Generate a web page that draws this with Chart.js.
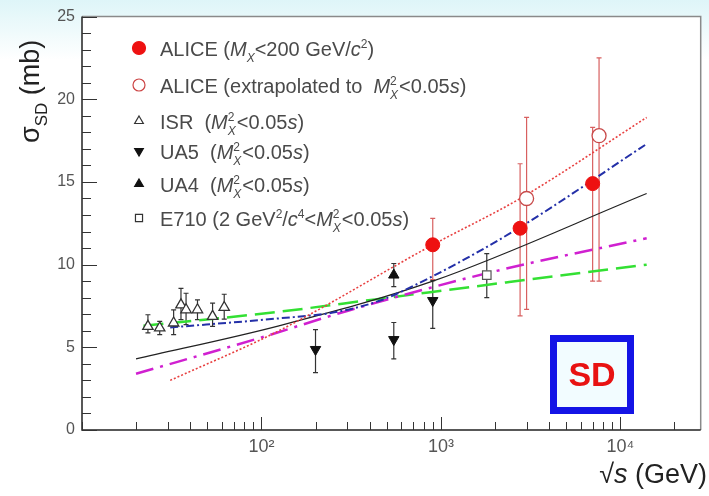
<!DOCTYPE html>
<html>
<head>
<meta charset="utf-8">
<script src="https://cdn.jsdelivr.net/npm/chart.js@4.4.1/dist/chart.umd.min.js"></script>
<style>
  body { margin: 0; background: #fff; }
  #wrap { width: 709px; height: 496px; }
</style>
</head>
<body>
<div id="wrap"><canvas id="sdChart" width="709" height="496"></canvas></div>
<script>
const FONT = '"Liberation Sans", Arial, sans-serif';

// ALICE, M_X < 200 GeV/c^2
const aliceEnergy = [900, 2760, 7000];
const aliceSigma = [11.2, 12.2, 14.9];
const aliceErrUp = [1.6, 3.9, 3.4];
const aliceErrDown = [2.1, 5.3, 5.9];

// ALICE extrapolated to M_X^2 < 0.05s (shifted a bit in energy in the plot)
const aliceExtEnergy = [3000, 7600];
const aliceExtSigma = [14.0, 17.8];
const aliceExtErrUp = [4.9, 4.7];
const aliceExtErrDown = [6.7, 8.8];

const isrEnergy = [23.3, 27.1, 32.4, 35.6, 38, 44, 53.4, 62];
const isrSigma = [6.27, 6.17, 6.47, 7.57, 7.27, 7.27, 6.87, 7.41];
const isrErrUp = [0.7, 0.4, 0.8, 1.0, 1.0, 0.6, 0.8, 0.8];
const isrErrDown = [0.4, 0.4, 0.7, 0.9, 0.9, 0.6, 0.6, 0.7];

const ua5Energy = [200, 546, 900];
const ua5Sigma = [4.87, 5.47, 7.83];
const ua5ErrUp = [1.2, 1.03, 1.2];
const ua5ErrDown = [1.4, 1.17, 1.68];

const ua4Energy = [546];
const ua4Sigma = [9.37];
const ua4ErrUp = [0.7];
const ua4ErrDown = [0.7];

const e710Energy = [1800];
const e710Sigma = [9.37];
const e710ErrUp = [1.3];
const e710ErrDown = [1.37];

// model curves
const redDotE = [31, 125, 900, 2760, 14000];
const redDotY = [3.0, 6.0, 11.2, 14.0, 18.9];
const blueDashDotE = [31, 125, 250, 450, 900, 2700, 14000];
const blueDashDotY = [6.2, 6.75, 7.1, 7.8, 9.3, 12.2, 17.3];
const blackE = [20, 125, 900, 14000];
const blackY = [4.3, 6.3, 9.0, 14.3];
const magentaE = [20, 100, 300, 2000, 14000];
const magentaY = [3.4, 5.6, 7.2, 9.6, 11.6];
const greenE = [22, 125, 430, 2400, 14000];
const greenY = [6.3, 7.15, 7.9, 8.95, 10.0];

const xMajorLabels = { 100: "10²", 1000: "10³", 10000: "10⁴" };
const yTicks = [0, 5, 10, 15, 20, 25];

const pts = (xs, ys) => xs.map((x, i) => ({ x: x, y: ys[i] }));

const xTickValues = [];
[10, 100, 1000, 10000].forEach((d) => {
  for (let k = 1; k <= 9; k++) if (d * k <= 28000) xTickValues.push(d * k);
});

function richText(ctx, x, y, parts, size) {
  const small = Math.round(size * 0.62);
  for (const p of parts) {
    const o = typeof p === "string" ? { t: p } : p;
    if (o.stack) {
      ctx.font = `${small}px ${FONT}`;
      const w1 = ctx.measureText(o.stack[0]).width;
      ctx.fillText(o.stack[0], x, y - size * 0.42);
      ctx.font = `italic ${small}px ${FONT}`;
      const w2 = ctx.measureText(o.stack[1]).width;
      ctx.fillText(o.stack[1], x, y + size * 0.28);
      x += Math.max(w1, w2) + 1;
      continue;
    }
    const sz = o.sub || o.sup ? small : size;
    ctx.font = `${o.it ? "italic " : ""}${sz}px ${FONT}`;
    const dy = o.sub ? size * 0.28 : o.sup ? -size * 0.42 : 0;
    ctx.fillText(o.t, x, y + dy);
    x += ctx.measureText(o.t).width;
  }
}

const mx2 = [{ t: "M", it: true }, { stack: ["2", "X"] }];
const legendRows = [
  { style: "circle", fill: "#ee1111", stroke: "#ee1111", r: 6.5, rot: 0,
    text: ["ALICE (", { t: "M", it: true }, { t: "X", it: true, sub: true }, "<200 GeV/", { t: "c", it: true }, { t: "2", sup: true }, ")"] },
  { style: "circle", fill: "#fff", stroke: "#cc4444", r: 6, rot: 0,
    text: ["ALICE (extrapolated to  ", ...mx2, "<0.05", { t: "s", it: true }, ")"] },
  { style: "triangle", fill: "#fff", stroke: "#333", r: 5, rot: 0,
    text: ["ISR  (", ...mx2, "<0.05", { t: "s", it: true }, ")"] },
  { style: "triangle", fill: "#111", stroke: "#111", r: 5, rot: 180,
    text: ["UA5  (", ...mx2, "<0.05", { t: "s", it: true }, ")"] },
  { style: "triangle", fill: "#111", stroke: "#111", r: 5, rot: 0,
    text: ["UA4  (", ...mx2, "<0.05", { t: "s", it: true }, ")"] },
  { style: "rect", fill: "#fff", stroke: "#333", r: 5, rot: 0,
    text: ["E710 (2 GeV", { t: "2", sup: true }, "/", { t: "c", it: true }, { t: "4", sup: true }, "<", ...mx2, "<0.05", { t: "s", it: true }, ")"] },
];
const legendBaselines = [56, 93, 129, 159, 192, 226];

const decorPlugin = {
  id: "decor",
  beforeDraw(chart) {
    const { ctx, chartArea: a } = chart;
    ctx.save();
    const g = ctx.createLinearGradient(0, 0, 0, 60);
    g.addColorStop(0, "#def5f8");
    g.addColorStop(1, "#ffffff");
    ctx.fillStyle = g;
    ctx.fillRect(0, 0, chart.width, chart.height);
    ctx.fillStyle = "#fff";
    ctx.fillRect(a.left, a.top, a.right - a.left, a.bottom - a.top);
    ctx.restore();
  },
  beforeDatasetsDraw(chart) {
    // error bars, behind the markers
    const { ctx, scales } = chart;
    ctx.save();
    chart.data.datasets.forEach((ds) => {
      if (!ds.errUp) return;
      ctx.strokeStyle = ds.errColor;
      ctx.lineWidth = 1.2;
      ds.data.forEach((p, i) => {
        const x = scales.x.getPixelForValue(p.x);
        const yt = scales.y.getPixelForValue(p.y + ds.errUp[i]);
        const yb = scales.y.getPixelForValue(p.y - ds.errDown[i]);
        ctx.beginPath();
        ctx.moveTo(x, yt); ctx.lineTo(x, yb);
        ctx.moveTo(x - 2.5, yt); ctx.lineTo(x + 2.5, yt);
        ctx.moveTo(x - 2.5, yb); ctx.lineTo(x + 2.5, yb);
        ctx.stroke();
      });
    });
    ctx.restore();
  },
  afterDraw(chart) {
    const { ctx, chartArea: a, scales } = chart;
    ctx.save();
    // frame
    ctx.lineWidth = 1.5;
    ctx.strokeStyle = "#8a8a8a";
    ctx.beginPath();
    ctx.moveTo(a.left, a.top); ctx.lineTo(a.right, a.top); ctx.lineTo(a.right, a.bottom);
    ctx.stroke();
    ctx.strokeStyle = "#222";
    ctx.beginPath();
    ctx.moveTo(a.left, a.top); ctx.lineTo(a.left, a.bottom); ctx.lineTo(a.right, a.bottom);
    ctx.stroke();
    // inward ticks
    ctx.lineWidth = 1;
    ctx.strokeStyle = "#333";
    ctx.beginPath();
    for (let v = 0; v <= 25; v++) {
      const y = Math.round(scales.y.getPixelForValue(v)) + 0.5;
      const len = v % 5 === 0 ? 15 : 9;
      ctx.moveTo(a.left, y); ctx.lineTo(a.left + len, y);
    }
    xTickValues.forEach((v) => {
      const x = Math.round(scales.x.getPixelForValue(v)) + 0.5;
      const len = xMajorLabels[v] ? 13 : 8;
      ctx.moveTo(x, a.bottom); ctx.lineTo(x, a.bottom - len);
    });
    ctx.stroke();

    // legend
    ctx.textBaseline = "alphabetic";
    legendRows.forEach((row, i) => {
      const yb = legendBaselines[i];
      ctx.fillStyle = row.fill;
      ctx.strokeStyle = row.stroke;
      ctx.lineWidth = 1.2;
      Chart.helpers.drawPoint(ctx, { pointStyle: row.style, radius: row.r, rotation: row.rot, borderWidth: 1.2 }, 139, yb - 8);
      ctx.fillStyle = "#4a4a4a";
      richText(ctx, 160, yb, row.text, 20);
    });

    // axis titles
    ctx.fillStyle = "#222";
    ctx.save();
    ctx.translate(39, 143);
    ctx.rotate(-Math.PI / 2);
    richText(ctx, 0, 0, [{ t: "σ" }, { t: "SD", sub: true }, " (mb)"], 27);
    ctx.restore();
    ctx.font = `27px ${FONT}`;
    const tail = " (GeV)";
    const wTail = ctx.measureText(tail).width;
    ctx.font = `italic 27px ${FONT}`;
    const wS = ctx.measureText("s").width;
    ctx.font = `27px ${FONT}`;
    const wRoot = ctx.measureText("√").width;
    const x0 = 707 - wTail - wS - wRoot;
    richText(ctx, x0, 483, ["√", { t: "s", it: true }, tail], 27);

    // SD box
    ctx.fillStyle = "#f2fcff";
    ctx.fillRect(553, 338, 78, 73);
    ctx.lineWidth = 7;
    ctx.strokeStyle = "#1414e6";
    ctx.strokeRect(553.5, 338.5, 77, 72);
    ctx.fillStyle = "#e81212";
    ctx.font = `bold 34px ${FONT}`;
    ctx.textAlign = "center";
    ctx.textBaseline = "middle";
    ctx.fillText("SD", 592, 377);
    ctx.restore();
  },
};

const errDs = (label, xs, ys, up, down, extra) =>
  Object.assign({ label, data: pts(xs, ys), errUp: up, errDown: down, showLine: false }, extra);

const lineDs = (label, xs, ys, color, dash, width) => ({
  label, data: pts(xs, ys), showLine: true, pointRadius: 0, borderColor: color,
  borderDash: dash, borderWidth: width, fill: false, cubicInterpolationMode: "monotone",
});

const ctx = document.getElementById("sdChart").getContext("2d");
new Chart(ctx, {
  type: "scatter",
  data: {
    datasets: [
      errDs("ALICE", aliceEnergy, aliceSigma, aliceErrUp, aliceErrDown,
        { pointStyle: "circle", pointRadius: 7, backgroundColor: "#ee1111", borderColor: "#ee1111", errColor: "#d86060" }),
      errDs("ALICE extrapolated", aliceExtEnergy, aliceExtSigma, aliceExtErrUp, aliceExtErrDown,
        { pointStyle: "circle", pointRadius: 7, backgroundColor: "#ffffff", borderColor: "#c84a4a", borderWidth: 1.3, errColor: "#d86060" }),
      errDs("ISR", isrEnergy, isrSigma, isrErrUp, isrErrDown,
        { pointStyle: "triangle", pointRadius: 6, backgroundColor: "#ffffff", borderColor: "#333", borderWidth: 1.3, errColor: "#333" }),
      errDs("UA5", ua5Energy, ua5Sigma, ua5ErrUp, ua5ErrDown,
        { pointStyle: "triangle", pointRadius: 6, rotation: 180, backgroundColor: "#111", borderColor: "#111", errColor: "#333" }),
      errDs("UA4", ua4Energy, ua4Sigma, ua4ErrUp, ua4ErrDown,
        { pointStyle: "triangle", pointRadius: 6, backgroundColor: "#111", borderColor: "#111", errColor: "#333" }),
      errDs("E710", e710Energy, e710Sigma, e710ErrUp, e710ErrDown,
        { pointStyle: "rect", pointRadius: 6, backgroundColor: "#ffffff", borderColor: "#555", borderWidth: 1.2, errColor: "#333" }),
      lineDs("red dotted", redDotE, redDotY, "#e84040", [2, 2], 1.6),
      lineDs("blue dash-dot", blueDashDotE, blueDashDotY, "#2430a8", [8, 3, 2, 3], 2),
      lineDs("black", blackE, blackY, "#222222", [], 1.2),
      lineDs("magenta dash-dot", magentaE, magentaY, "#d020d0", [18, 7, 3, 7], 2.5),
      lineDs("green dashed", greenE, greenY, "#33e033", [20, 8], 2.5),
    ],
  },
  options: {
    responsive: false,
    animation: false,
    layout: { padding: { left: 0, right: 5, top: 13, bottom: 0 } },
    plugins: { legend: { display: false }, tooltip: { enabled: false } },
    scales: {
      x: {
        type: "logarithmic",
        min: 10,
        max: 28000,
        grid: { display: false, drawTicks: false },
        border: { display: false },
        afterBuildTicks: (scale) => {
          scale.ticks = xTickValues.map((v) => ({ value: v }));
        },
        afterFit: (scale) => { scale.height = 66; },
        ticks: {
          autoSkip: false,
          maxRotation: 0,
          padding: 6,
          color: "#555",
          font: { family: FONT, size: 18 },
          callback: (v) => xMajorLabels[v] || "",
        },
      },
      y: {
        min: 0,
        max: 25,
        grid: { display: false, drawTicks: false },
        border: { display: false },
        afterBuildTicks: (scale) => {
          scale.ticks = yTicks.map((v) => ({ value: v }));
        },
        afterFit: (scale) => { scale.width = 82; },
        ticks: {
          padding: 7,
          color: "#555",
          font: { family: FONT, size: 16 },
        },
      },
    },
  },
  plugins: [decorPlugin],
});
</script>
</body>
</html>
